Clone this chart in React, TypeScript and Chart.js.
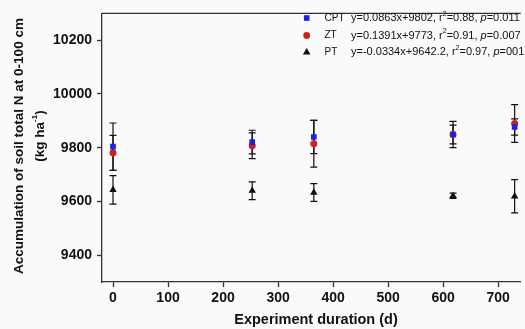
import React, { useEffect, useRef } from 'react';
import { Chart, registerables } from 'chart.js';
Chart.register(...registerables);

const days = [0, 253, 365, 618, 730];
const cptValues = [9804, 9821, 9840, 9849, 9877];
const cptErrors = [88, 44, 62, 35, 30];
const ztValues = [9781, 9807, 9815, 9849, 9890];
const ztErrors = [65, 48, 87, 49, 70];
const ptValues = [9643, 9640, 9633, 9621, 9619];
const ptErrors = [53, 33, 33, 10, 62];

const xTicks = [0, 100, 200, 300, 400, 500, 600, 700];
const yTicks = [9400, 9600, 9800, 10000, 10200];

const seriesNames = ['CPT', 'ZT', 'PT'];
const eqTexts = ['y=0.0863x+9802', 'y=0.1391x+9773', 'y=-0.0334x+9642.2'];
const r2Texts = ['0.88', '0.91', '0.97'];
const pTexts = ['0.011', '0.007', '001'];

const xTitle = 'Experiment duration (d)';
const yTitleLines = ['Accumulation of soil total N at 0-100 cm', '(kg ha', '-1', ')'];

const FONT = "'Liberation Sans', Arial, sans-serif";
const BLUE = '#1f1fe6';
const RED = '#cc2020';
const BLACK = '#111111';
const AXIS = '#333333';

const errorBarsPlugin = {
  id: 'errorBars',
  beforeDatasetsDraw(chart: any) {
    const ctx = chart.ctx;
    const ys = chart.scales.y;
    chart.data.datasets.forEach((ds: any, i: number) => {
      const meta = chart.getDatasetMeta(i);
      meta.data.forEach((pt: any, j: number) => {
        const v = ds.data[j].y;
        const e = ds.errors[j];
        const x = pt.x;
        const y1 = ys.getPixelForValue(v + e);
        const y2 = ys.getPixelForValue(v - e);
        ctx.save();
        ctx.strokeStyle = BLACK;
        ctx.lineWidth = 1.2;
        ctx.beginPath();
        ctx.moveTo(x, y1);
        ctx.lineTo(x, y2);
        ctx.moveTo(x - 3.5, y1);
        ctx.lineTo(x + 3.5, y1);
        ctx.moveTo(x - 3.5, y2);
        ctx.lineTo(x + 3.5, y2);
        ctx.stroke();
        ctx.restore();
      });
    });
  },
};

const decorPlugin = {
  id: 'decor',
  beforeDraw(chart: any) {
    const ctx = chart.ctx;
    ctx.save();
    ctx.fillStyle = '#fafafa';
    ctx.fillRect(0, 0, chart.width, chart.height);
    ctx.restore();
  },
  afterDraw(chart: any) {
    const ctx = chart.ctx;
    const ca = chart.chartArea;
    ctx.save();
    // top border
    ctx.strokeStyle = AXIS;
    ctx.lineWidth = 1.3;
    ctx.beginPath();
    ctx.moveTo(ca.left, ca.top);
    ctx.lineTo(ca.right, ca.top);
    ctx.stroke();

    // x title
    ctx.fillStyle = '#111';
    ctx.font = `bold 14.5px ${FONT}`;
    ctx.textAlign = 'center';
    ctx.textBaseline = 'middle';
    ctx.fillText(xTitle, 316, 320);

    // y title
    ctx.save();
    ctx.translate(19, 146);
    ctx.rotate(-Math.PI / 2);
    ctx.font = `bold 13.5px ${FONT}`;
    ctx.textAlign = 'center';
    ctx.fillText(yTitleLines[0], 0, 0);
    ctx.restore();

    ctx.save();
    ctx.translate(40, 136);
    ctx.rotate(-Math.PI / 2);
    ctx.textAlign = 'left';
    ctx.textBaseline = 'middle';
    ctx.font = `bold 13.5px ${FONT}`;
    const w1 = ctx.measureText(yTitleLines[1]).width;
    ctx.font = `bold 8px ${FONT}`;
    const w2 = ctx.measureText(yTitleLines[2]).width;
    ctx.font = `bold 13.5px ${FONT}`;
    const w3 = ctx.measureText(yTitleLines[3]).width;
    let cx = -(w1 + w2 + w3) / 2;
    ctx.fillText(yTitleLines[1], cx, 0);
    cx += w1;
    ctx.font = `bold 8px ${FONT}`;
    ctx.fillText(yTitleLines[2], cx, -5);
    cx += w2;
    ctx.font = `bold 13.5px ${FONT}`;
    ctx.fillText(yTitleLines[3], cx, 0);
    ctx.restore();

    // legend
    const rows = [18, 35.5, 52];
    const mx = 306.7;
    ctx.fillStyle = BLUE;
    ctx.fillRect(mx - 2.8, rows[0] - 2.8, 5.6, 5.6);
    ctx.fillStyle = RED;
    ctx.beginPath();
    ctx.arc(mx, rows[1], 3.4, 0, Math.PI * 2);
    ctx.fill();
    ctx.fillStyle = BLACK;
    ctx.beginPath();
    ctx.moveTo(mx, rows[2] - 4);
    ctx.lineTo(mx + 3.8, rows[2] + 2.6);
    ctx.lineTo(mx - 3.8, rows[2] + 2.6);
    ctx.closePath();
    ctx.fill();

    ctx.fillStyle = '#111';
    ctx.textBaseline = 'middle';
    ctx.textAlign = 'left';
    seriesNames.forEach((name, i) => {
      const y = rows[i];
      ctx.font = `10px ${FONT}`;
      ctx.fillText(name, 324.5, y);
      let x = 351;
      const seg = (t: string, font: string, dy = 0) => {
        ctx.font = font;
        ctx.fillText(t, x, y + dy);
        x += ctx.measureText(t).width;
      };
      seg(`${eqTexts[i]}, r`, `11px ${FONT}`);
      seg('2', `7px ${FONT}`, -4);
      seg(`=${r2Texts[i]}, `, `11px ${FONT}`);
      seg('p', `italic 11px ${FONT}`);
      seg(`=${pTexts[i]}`, `11px ${FONT}`);
    });
    ctx.restore();
  },
};

export default function App() {
  const ref = useRef<HTMLCanvasElement>(null);
  useEffect(() => {
    document.body.style.margin = '0';
    document.body.style.background = '#fafafa';
    const mk = (vals: number[]) => days.map((d, i) => ({ x: d, y: vals[i] }));
    const chart = new Chart(ref.current as HTMLCanvasElement, {
      type: 'scatter',
      data: {
        datasets: [
          {
            label: 'CPT',
            data: mk(cptValues),
            errors: cptErrors,
            pointStyle: 'rect',
            pointRadius: 4,
            backgroundColor: BLUE,
            borderColor: BLUE,
            borderWidth: 0,
          } as any,
          {
            label: 'ZT',
            data: mk(ztValues),
            errors: ztErrors,
            pointStyle: 'circle',
            pointRadius: 3.5,
            backgroundColor: RED,
            borderColor: RED,
            borderWidth: 0,
          } as any,
          {
            label: 'PT',
            data: mk(ptValues),
            errors: ptErrors,
            pointStyle: 'triangle',
            pointRadius: 4.3,
            backgroundColor: BLACK,
            borderColor: BLACK,
            borderWidth: 0,
          } as any,
        ],
      },
      options: {
        responsive: false,
        animation: false,
        layout: { padding: { top: 12, right: 0, left: 0, bottom: 0 } },
        plugins: { legend: { display: false }, tooltip: { enabled: false } },
        scales: {
          x: {
            type: 'linear',
            min: -20,
            max: 741,
            afterBuildTicks: (s: any) => {
              s.ticks = xTicks.map((v) => ({ value: v }));
            },
            afterFit: (s: any) => {
              s.height = 47;
            },
            grid: {
              display: true,
              drawOnChartArea: false,
              drawTicks: true,
              tickLength: 5,
              color: AXIS,
              tickWidth: 1.3,
            },
            border: { display: true, color: AXIS, width: 1.3 },
            ticks: {
              padding: 3,
              color: '#111',
              font: { family: FONT, size: 14, weight: 'bold' },
              maxRotation: 0,
              callback: (v: any) => String(v),
            },
          },
          y: {
            type: 'linear',
            min: 9300,
            max: 10300,
            afterBuildTicks: (s: any) => {
              s.ticks = yTicks.map((v) => ({ value: v }));
            },
            afterFit: (s: any) => {
              s.width = 102;
            },
            grid: {
              display: true,
              drawOnChartArea: false,
              drawTicks: true,
              tickLength: 5,
              color: AXIS,
              tickWidth: 1.3,
            },
            border: { display: true, color: AXIS, width: 1.3 },
            ticks: {
              padding: 5,
              color: '#111',
              font: { family: FONT, size: 14, weight: 'bold' },
              callback: (v: any) => String(v),
            },
          },
        },
      } as any,
      plugins: [errorBarsPlugin, decorPlugin],
    });
    return () => chart.destroy();
  }, []);
  return <canvas ref={ref} width={525} height={329} style={{ display: 'block' }} />;
}
